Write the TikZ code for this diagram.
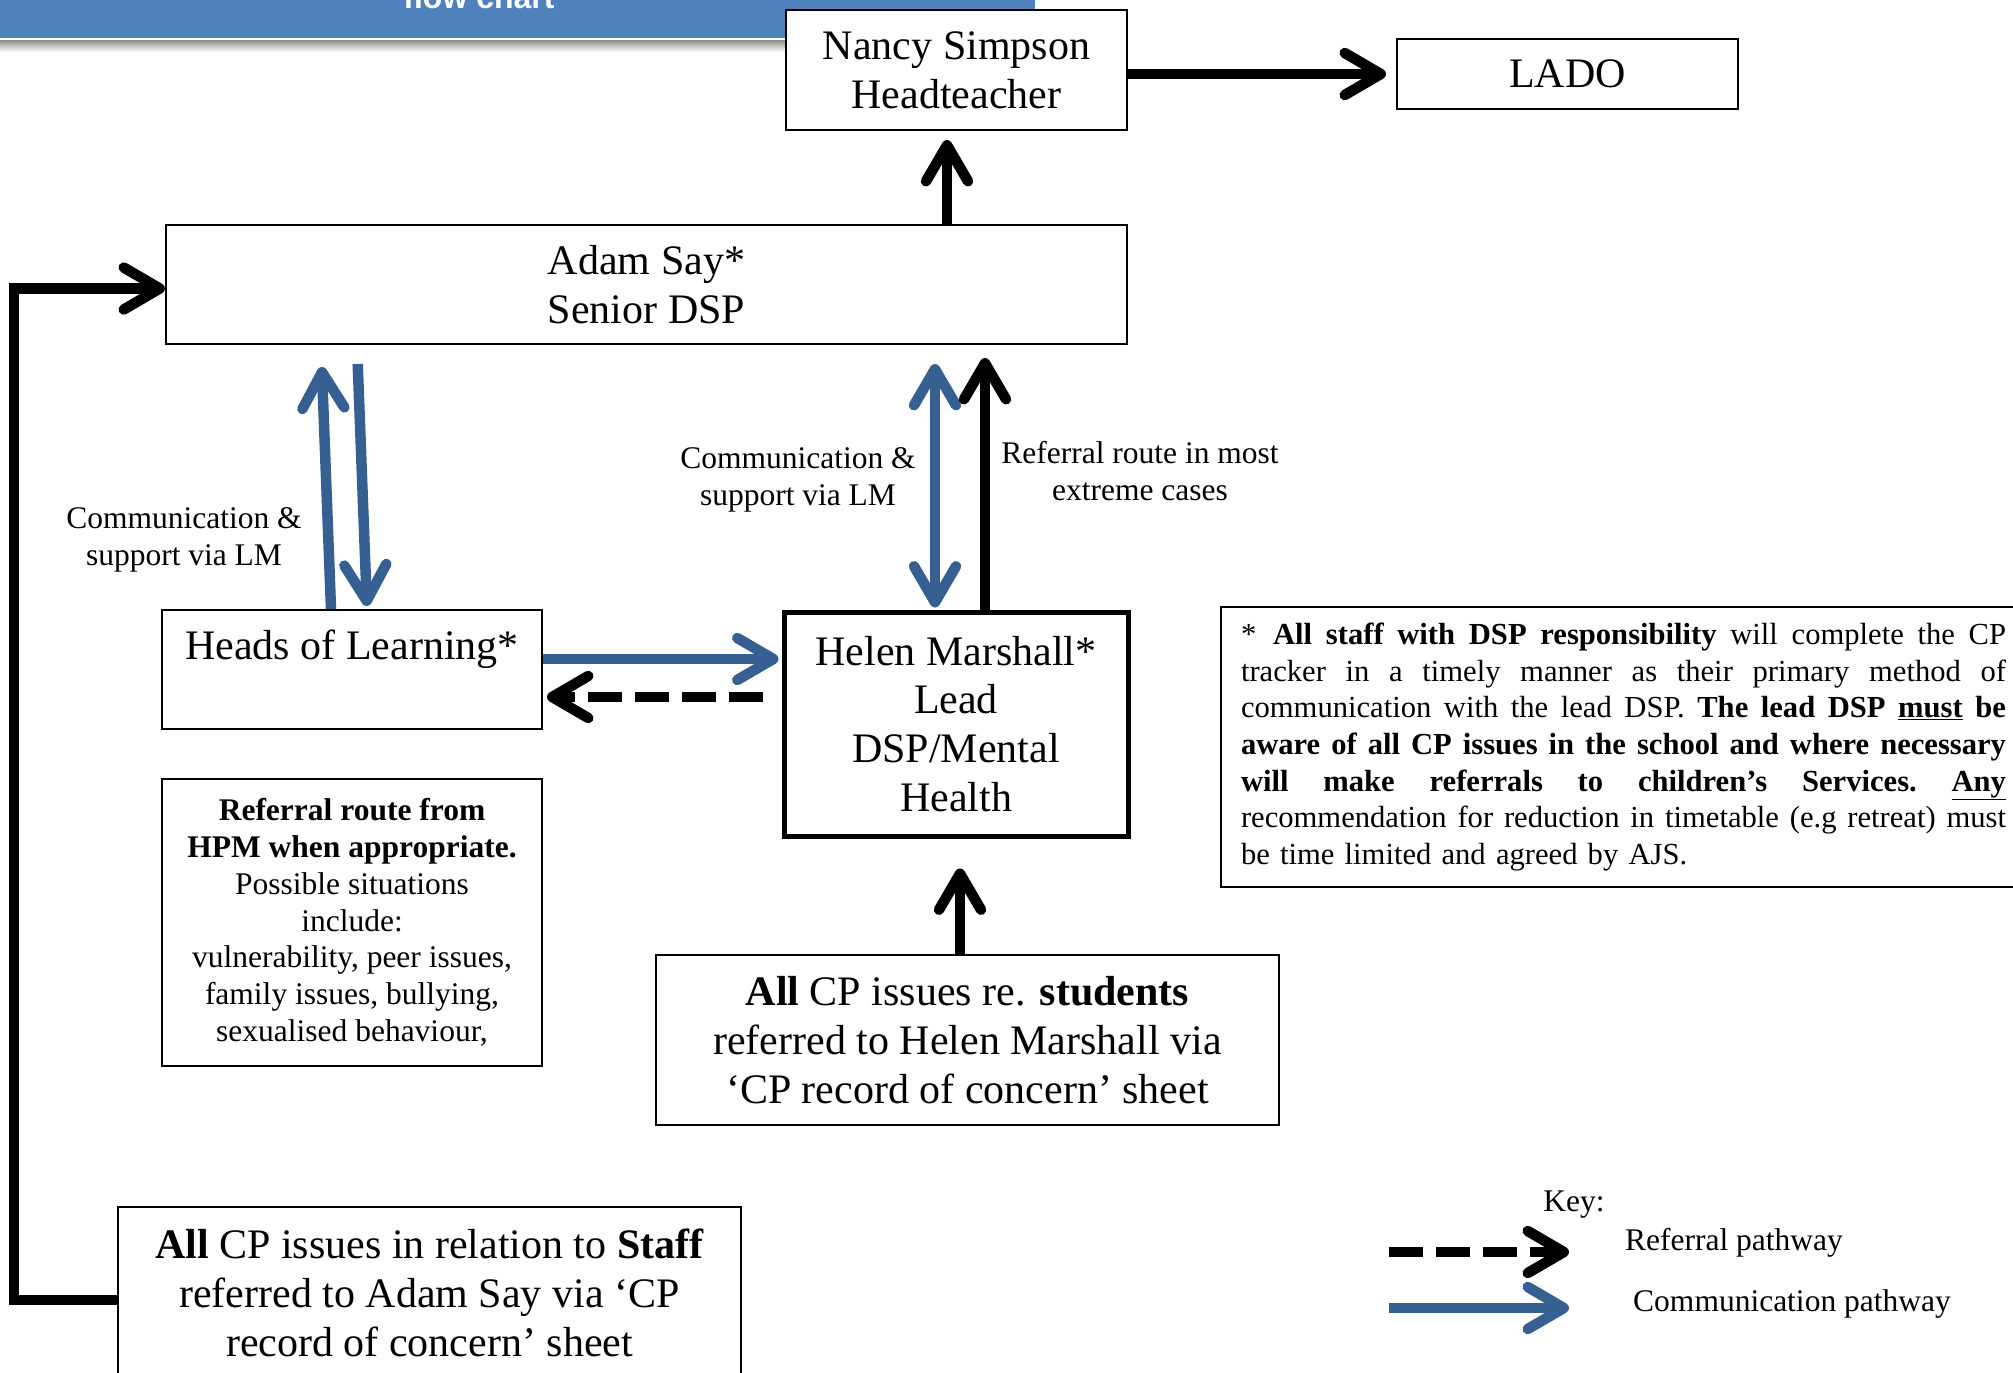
\documentclass[tikz,border=0pt]{standalone}
\usepackage{fontspec}
\setmainfont{Liberation Serif}
\newfontfamily\bannerfont{Liberation Sans}
\usetikzlibrary{arrows.meta}
\definecolor{bannerblue}{RGB}{79,129,189}
\definecolor{commblue}{RGB}{55,96,146}
\newcommand{\bigtxt}{\fontsize{42}{48.8}\selectfont}
\newcommand{\smtxt}{\fontsize{31.5}{36.8}\selectfont}
\newcommand{\notetxt}{\fontsize{30.6}{36.7}\selectfont}
\newcommand{\js}{\hskip 0.25em plus 1fil minus 0.06em\relax}
\newcommand{\jline}[1]{\leavevmode\hbox to 765pt{#1}}
\begin{document}
\begin{tikzpicture}[x=1pt,y=-1pt,
  >={Straight Barb[length=36pt,width=42pt,line cap=round,line join=round]},
  box/.style={draw=black, line width=2pt, fill=white, inner sep=0pt, align=center, font=\bigtxt},
  thickbox/.style={box, line width=5pt},
  lbl/.style={align=center, font=\smtxt, inner sep=0pt},
  refline/.style={draw=black, line width=10.5pt},
  commline/.style={draw=commblue, line width=10.5pt},
  dashline/.style={draw=black, line width=10.5pt, dash pattern=on 34pt off 13pt}
]
\path[use as bounding box] (0,0) rectangle (2013,1373);
\clip (0,0) rectangle (2013,1373);
\fill[white] (0,0) rectangle (2013,1373);

% banner
\shade[top color=black!45, bottom color=white] (0,40) rectangle (1036,52);
\fill[bannerblue] (0,-10) rectangle (1035,38);
\draw[white, line width=2pt] (0,39) -- (1035,39);
\node[anchor=base, text=white, font=\bannerfont\bfseries\fontsize{32}{36}\selectfont, inner sep=0pt] (title) at (479,9) {flow chart};

% boxes
\node[box, minimum width=341, minimum height=120] (nancy) at (956.5,70) {Nancy Simpson\\Headteacher};
\node[box, minimum width=341, minimum height=70.5] (lado) at (1567.5,74) {LADO};
\node[box, minimum width=961, minimum height=119] (adam) at (646.5,284.5) {Adam Say*\\Senior DSP};
\node[box, minimum width=380, minimum height=119] (heads) at (352,669.5) {Heads of Learning*\\\mbox{}};
\node[thickbox, minimum width=344, minimum height=224] (helen) at (956,724) {Helen Marshall*\\Lead\\DSP/Mental\\Health};
\node[box, font=\smtxt, minimum width=380, minimum height=287] (hpm) at (352,922.5) {\textbf{Referral route from}\\\textbf{HPM when appropriate.}\\Possible situations\\include:\\vulnerability, peer issues,\\family issues, bullying,\\sexualised behaviour,};
\node[box, minimum width=623, minimum height=170] (bm) at (967.5,1040) {\textbf{All} CP issues re. \textbf{students}\\referred to Helen Marshall via\\‘CP record of concern’ sheet};
\node[box, minimum width=623, minimum height=172] (bl) at (429.5,1293) {\textbf{All} CP issues in relation to \textbf{Staff}\\referred to Adam Say via ‘CP\\record of concern’ sheet};
\node[draw=black, line width=2pt, fill=white, anchor=west, inner xsep=20pt, inner ysep=0pt, minimum height=280, text width=765pt, align=left, font=\notetxt] (note) at (1220,747) {%
\jline{*\hspace{0.55em}\textbf{All\js staff\js with\js DSP\js responsibility}\js will\js complete\js the\js CP}\\
\jline{tracker\js in\js a\js timely\js manner\js as\js their\js primary\js method\js of}\\
\jline{communication\js with\js the\js lead\js DSP.\js \textbf{The\js lead\js DSP\js \underline{must}\js be}}\\
\jline{\textbf{aware\js of\js all\js CP\js issues\js in\js the\js school\js and\js where\js necessary}}\\
\jline{\textbf{will\js make\js referrals\js to\js children’s\js Services.\js \underline{Any}}}\\
\jline{recommendation\js for\js reduction\js in\js timetable\js (e.g\js retreat)\js must}\\
be time limited and agreed by AJS.};

% labels
\node[lbl] (lblleft) at (184,540) {Communication \&\\support via LM};
\node[lbl] (lblmid) at (798,480) {Communication \&\\support via LM};
\node[lbl] (lblright) at (1140,471) {Referral route in most\\extreme cases};

% connectors
\draw[refline, ->, shorten >=10pt] (lado.west -| nancy.east) -- (lado.west);
\draw[refline, ->, shorten >=9pt] (947,0 |- adam.north) -- (947,0 |- nancy.south);
\draw[refline, ->, line join=miter] ([yshift=-7pt]bl.west) -- ++(-103,0) |- ([yshift=-4pt]adam.west);
\draw[commline, ->, shorten >=22pt] (331,0 |- heads.north) -- (321,0 |- adam.south);
\draw[commline, ->, shorten <=19pt, shorten >=3pt] (357,0 |- adam.south) -- (367,0 |- heads.north);
\draw[commline, <->, shorten <=19pt, shorten >=2pt] (935,0 |- adam.south) -- (935,0 |- helen.north);
\draw[refline, ->, shorten >=13pt] (985,0 |- helen.north) -- (985,0 |- adam.south);
\draw[commline, ->, shorten >=3pt] (0,659 -| heads.east) -- (0,659 -| helen.west);
\draw[dashline, ->, shorten <=19pt, shorten >=4pt] (0,697 -| helen.west) -- (0,697 -| heads.east);
\draw[refline, ->, shorten >=30pt] (960,0 |- bm.north) -- (960,0 |- helen.south);

% key
\node[lbl, anchor=center] (keyt) at (1574,1205) {Key:};
\node[lbl] (keyref) at (1734,1243) {Referral pathway};
\node[lbl] (keycomm) at (1792,1304) {Communication pathway};
\coordinate (k1s) at (1389,1252);
\coordinate (k1e) at (1569,1252);
\coordinate (k2s) at (1389,1308);
\coordinate (k2e) at (1569,1308);
\draw[dashline, ->] (k1s) -- (k1e);
\draw[commline, ->] (k2s) -- (k2e);
\end{tikzpicture}
\end{document}
